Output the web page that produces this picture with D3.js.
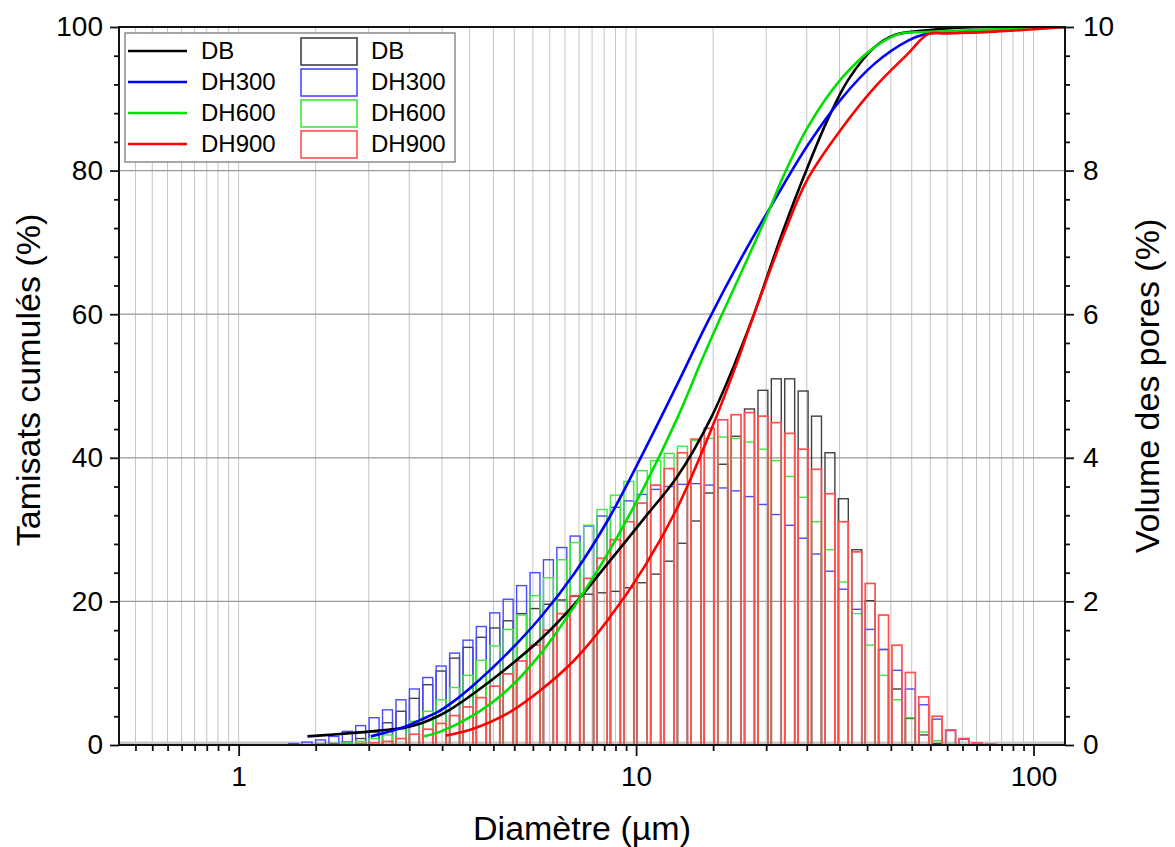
<!DOCTYPE html>
<html>
<head>
<meta charset="utf-8">
<script src="https://cdn.jsdelivr.net/npm/d3@7"></script>
<style>
  body { margin: 0; background: #fff; }
  svg { display: block; }
  text { font-family: "Liberation Sans", Arial, sans-serif; fill: #000; }
</style>
</head>
<body>
<svg id="chart" width="1175" height="847"></svg>
<script>
// ---- data ----
const series = ['DB', 'DH300', 'DH600', 'DH900'];
const lineColors = ['#000000', '#0000ff', '#00e000', '#ff0000'];
const barColors = ['#404040', '#4a4aff', '#3ee83e', '#ff5050'];

// bin centre diameters (µm)
const binDiam = [1.375, 1.486, 1.607, 1.736, 1.877, 2.028, 2.192, 2.369, 2.561, 2.768, 2.991,
  3.232, 3.494, 3.776, 4.080, 4.410, 4.766, 5.151, 5.568, 6.017, 6.503,
  7.028, 7.596, 8.209, 8.872, 9.590, 10.36, 11.20, 12.11, 13.08, 14.14,
  15.28, 16.52, 17.85, 19.29, 20.85, 22.53, 24.35, 26.32, 28.44, 30.74,
  33.22, 35.91, 38.81, 41.94, 45.33, 48.99, 52.95, 57.23, 61.85, 66.83, 72.23, 78.07];

// pore volume per bin (%), right axis
const volDB = [0, 0, 0.01, 0.02, 0.04, 0.09, 0.18, 0.31, 0.47, 0.65, 0.84,
  1.03, 1.21, 1.36, 1.50, 1.63, 1.73, 1.83, 1.90, 1.96, 2.02,
  2.07, 2.10, 2.12, 2.14, 2.19, 2.26, 2.38, 2.56, 2.81, 3.12,
  3.51, 3.91, 4.30, 4.68, 4.94, 5.10, 5.10, 4.93, 4.58, 4.07,
  3.43, 2.72, 2.01, 1.33, 0.78, 0.37, 0.14, 0.02, 0, 0, 0, 0];
const volDH300 = [0.02, 0.04, 0.07, 0.12, 0.19, 0.27, 0.38, 0.49, 0.63, 0.78, 0.94,
  1.10, 1.28, 1.46, 1.65, 1.84, 2.03, 2.22, 2.40, 2.58, 2.75,
  2.91, 3.05, 3.19, 3.31, 3.40, 3.49, 3.56, 3.60, 3.63, 3.64,
  3.62, 3.58, 3.54, 3.46, 3.35, 3.21, 3.06, 2.88, 2.66, 2.42,
  2.17, 1.89, 1.61, 1.33, 1.04, 0.78, 0.56, 0.36, 0.20, 0.08, 0.03, 0.01];
const volDH600 = [0, 0, 0, 0.01, 0.03, 0.05, 0.09, 0.14, 0.22, 0.33, 0.47,
  0.63, 0.80, 0.97, 1.18, 1.38, 1.61, 1.81, 2.08, 2.33, 2.58,
  2.82, 3.06, 3.28, 3.48, 3.67, 3.82, 3.96, 4.06, 4.16, 4.24,
  4.27, 4.29, 4.27, 4.22, 4.12, 3.96, 3.74, 3.45, 3.11, 2.72,
  2.27, 1.83, 1.39, 0.97, 0.63, 0.38, 0.18, 0.06, 0.01, 0, 0, 0];
const volDH900 = [0, 0, 0, 0, 0.01, 0.02, 0.03, 0.05, 0.09, 0.15, 0.22,
  0.30, 0.41, 0.53, 0.66, 0.82, 0.99, 1.17, 1.39, 1.60, 1.83,
  2.08, 2.32, 2.60, 2.86, 3.11, 3.37, 3.62, 3.85, 4.07, 4.26,
  4.41, 4.53, 4.60, 4.63, 4.58, 4.49, 4.34, 4.12, 3.84, 3.50,
  3.11, 2.69, 2.25, 1.81, 1.39, 1.01, 0.67, 0.40, 0.21, 0.09, 0.03, 0.01];

// cumulative passing curves [diameter, %], left axis
const cumDB = [[1.49, 1.2], [1.77, 1.5], [2.15, 1.9], [2.61, 2.4], [2.87, 3.0], [3.17, 4.0],
  [3.42, 5.0], [3.91, 7.2], [4.75, 10.8], [5.77, 14.8], [6.99, 19.6], [8.49, 25.3],
  [10.49, 31.6], [12.74, 37.5], [15.45, 45.6], [18.04, 54.2], [19.68, 59.6],
  [23.64, 72.2], [27.07, 80.6], [30.40, 87.2], [34.14, 92.6], [39.83, 97.2], [44.74, 98.9],
  [53.24, 99.5], [64.62, 99.9], [85, 100], [120, 100]];
const cumDH300 = [[2.15, 1.2], [2.61, 2.5], [2.87, 3.5], [3.17, 4.6], [3.42, 5.8], [3.91, 8.4],
  [4.75, 12.8], [5.77, 17.9], [6.99, 23.9], [8.49, 31.3], [10.49, 41.0],
  [12.74, 50.4], [15.16, 59.0], [18.39, 67.8], [22.31, 75.9], [27.07, 83.6],
  [32.84, 90.0], [39.83, 94.9], [48.34, 98.1], [53.24, 99.0], [60, 99.25], [80, 99.55], [120, 100]];
const cumDH600 = [[2.93, 1.2], [3.23, 1.9], [3.91, 4.2], [4.75, 7.7], [5.77, 12.8], [6.99, 19.3],
  [8.49, 26.7], [10.49, 36.0], [12.74, 45.7], [14.58, 53.4], [16.21, 59.2],
  [18.39, 65.8], [21.47, 74.1], [23.64, 79.6], [27.07, 86.1], [32.84, 92.8], [39.83, 97.2],
  [45.63, 99.0], [53.24, 99.3], [75, 99.6], [120, 100]];
const cumDH900 = [[3.32, 1.3], [3.91, 2.3], [4.75, 4.4], [5.77, 7.7], [6.99, 11.8], [8.49, 17.4],
  [10.49, 24.8], [12.74, 33.2], [15.45, 43.9], [18.04, 53.6], [19.49, 58.9],
  [23.64, 71.4], [27.07, 78.9], [32.84, 85.8], [39.83, 91.6], [48.34, 96.3], [54.30, 99.0],
  [60, 99.1], [80, 99.35], [120, 100]];

const volumes = [volDB, volDH300, volDH600, volDH900];
const cumul = [cumDB, cumDH300, cumDH600, cumDH900];

// ---- layout ----
const pLeft = 119, pRight = 1065, pTop = 27, pBottom = 745;
const svg = d3.select('#chart');

const x = d3.scaleLog().domain([0.5, 120]).range([pLeft, pRight]);
const yL = d3.scaleLinear().domain([0, 100]).range([pBottom, pTop]);
const yR = d3.scaleLinear().domain([0, 10]).range([pBottom, pTop]);

// Origin style log axis: 15 linear minor ticks per decade
const majorX = [1, 10, 100];
const minorX = [];
[0.1, 1, 10, 100].forEach(b => {
  for (let k = 1; k < 16; k++) {
    const v = b * (1 + k * 0.5625);
    if (v >= 0.5 && v <= 120) minorX.push(v);
  }
});
const majorY = d3.range(0, 101, 20);
const minorY = d3.range(0, 101, 4).filter(v => v % 20 !== 0);

svg.append('defs').append('clipPath').attr('id', 'plot')
  .append('rect').attr('x', pLeft).attr('y', pTop).attr('width', pRight - pLeft).attr('height', pBottom - pTop);

// grid
const grid = svg.append('g');
grid.selectAll('line.v')
  .data(majorX.concat(minorX))
  .enter().append('line')
  .attr('x1', d => x(d)).attr('x2', d => x(d))
  .attr('y1', pTop).attr('y2', pBottom)
  .attr('stroke', '#c4c4c4').attr('stroke-width', 1);
grid.selectAll('line.h')
  .data([20, 40, 60, 80])
  .enter().append('line')
  .attr('x1', pLeft).attr('x2', pRight)
  .attr('y1', d => yL(d)).attr('y2', d => yL(d))
  .attr('stroke', '#9a9a9a').attr('stroke-width', 1.2);
grid.append('line')
  .attr('x1', pLeft).attr('x2', pRight)
  .attr('y1', pBottom - 2).attr('y2', pBottom - 2)
  .attr('stroke', '#c8c8c8').attr('stroke-width', 3);

// histogram bars (no fill), red drawn last
const plot = svg.append('g').attr('clip-path', 'url(#plot)');
function binStep (k) {
  const j = Math.min(k + 1, binDiam.length - 1);
  return x(binDiam[j]) - x(binDiam[j - 1]);
}
volumes.forEach((vals, i) => {
  const bars = vals.map((v, k) => ({ d: binDiam[k], v: v, k: k })).filter(b => b.v > 0);
  plot.append('g')
    .selectAll('rect')
    .data(bars)
    .enter().append('rect')
    .attr('x', b => x(b.d) - binStep(b.k) * 0.37)
    .attr('width', b => binStep(b.k) * 0.74)
    .attr('y', b => yR(b.v))
    .attr('height', b => yR(0) - yR(b.v))
    .attr('fill', 'none')
    .attr('stroke', barColors[i])
    .attr('stroke-width', i === 3 ? 1.7 : 1.4);
});

// cumulative curves
const line = d3.line()
  .x(d => x(d[0]))
  .y(d => yL(d[1]))
  .curve(d3.curveCatmullRom.alpha(0.5));
cumul.forEach((pts, i) => {
  plot.append('path')
    .datum(pts)
    .attr('d', line)
    .attr('fill', 'none')
    .attr('stroke', lineColors[i])
    .attr('stroke-width', 2.6);
});

// frame
svg.append('rect')
  .attr('x', pLeft).attr('y', pTop)
  .attr('width', pRight - pLeft).attr('height', pBottom - pTop)
  .attr('fill', 'none').attr('stroke', '#111').attr('stroke-width', 2);

// axes
function styleAxis (g) {
  g.select('.domain').remove();
  g.selectAll('line').attr('stroke', '#111').attr('stroke-width', 1.8);
  g.selectAll('text').style('font-size', '28px').style('font-family', '"Liberation Sans", Arial, sans-serif');
}

svg.append('g').attr('transform', `translate(0,${pBottom})`)
  .call(d3.axisBottom(x).tickValues(minorX).tickSize(6).tickFormat(''))
  .call(styleAxis);
svg.append('g').attr('transform', `translate(0,${pBottom})`)
  .call(d3.axisBottom(x).tickValues(majorX).tickSize(11).tickPadding(10).tickFormat(d3.format('d')))
  .call(styleAxis);

svg.append('g').attr('transform', `translate(${pLeft},0)`)
  .call(d3.axisLeft(yL).tickValues(minorY).tickSize(5).tickFormat(''))
  .call(styleAxis);
svg.append('g').attr('transform', `translate(${pLeft},0)`)
  .call(d3.axisLeft(yL).tickValues(majorY).tickSize(9).tickPadding(7))
  .call(styleAxis);

svg.append('g').attr('transform', `translate(${pRight},0)`)
  .call(d3.axisRight(yR).tickValues(minorY.map(v => v / 10)).tickSize(5).tickFormat(''))
  .call(styleAxis);
svg.append('g').attr('transform', `translate(${pRight},0)`)
  .call(d3.axisRight(yR).tickValues(majorY.map(v => v / 10)).tickSize(9).tickPadding(9).tickFormat(d3.format('d')))
  .call(styleAxis);

// axis titles
svg.append('text')
  .attr('x', (pLeft + pRight) / 2 - 10).attr('y', 840)
  .attr('text-anchor', 'middle')
  .style('font-size', '34px')
  .text('Diamètre (µm)');
svg.append('text')
  .attr('transform', `translate(40,${(pTop + pBottom) / 2 - 6}) rotate(-90)`)
  .attr('text-anchor', 'middle')
  .style('font-size', '34px')
  .text('Tamisats cumulés (%)');
svg.append('text')
  .attr('transform', `translate(1159,${(pTop + pBottom) / 2}) rotate(-90)`)
  .attr('text-anchor', 'middle')
  .style('font-size', '34px')
  .text('Volume des pores (%)');

// legend
const lg = svg.append('g');
lg.append('rect')
  .attr('x', 125).attr('y', 33).attr('width', 330).attr('height', 129)
  .attr('fill', '#fff').attr('stroke', '#8a8a8a').attr('stroke-width', 1.5);
const rowY = [51, 82, 113, 144];
series.forEach((s, i) => {
  lg.append('line')
    .attr('x1', 128).attr('x2', 187)
    .attr('y1', rowY[i]).attr('y2', rowY[i])
    .attr('stroke', lineColors[i]).attr('stroke-width', 2.6);
  lg.append('text')
    .attr('x', 201).attr('y', rowY[i] + 8)
    .style('font-size', '24px')
    .text(s);
  lg.append('rect')
    .attr('x', 301).attr('y', rowY[i] - 13)
    .attr('width', 56).attr('height', 27)
    .attr('fill', 'none').attr('stroke', barColors[i]).attr('stroke-width', 1.6);
  lg.append('text')
    .attr('x', 371).attr('y', rowY[i] + 8)
    .style('font-size', '24px')
    .text(s);
});
</script>
</body>
</html>
